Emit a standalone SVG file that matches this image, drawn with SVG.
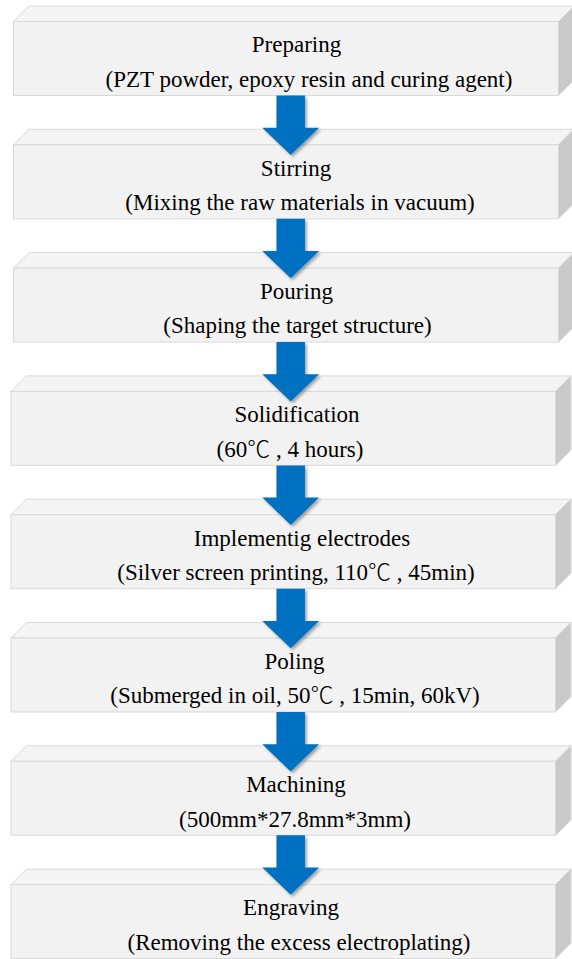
<svg xmlns="http://www.w3.org/2000/svg" xmlns:xlink="http://www.w3.org/1999/xlink" width="572" height="959" viewBox="0 0 572 959">
<style>
.front{fill:#F2F2F2;stroke:#D9D9D9;stroke-width:1}
.top{fill:#F4F4F4;stroke:#D9D9D9;stroke-width:1}
.side{fill:#C9C9C9;stroke:#D6D6D6;stroke-width:1}
.t{font-family:"Liberation Serif","Times New Roman",serif;font-size:23px;fill:#000;text-anchor:middle}
.deg{font-family:"Noto Sans CJK SC",sans-serif;font-weight:300}
.arrow{fill:#0070C0}
</style>
<defs>
<filter id="sh" x="-30%" y="-30%" width="160%" height="160%">
<feDropShadow dx="2" dy="2" stdDeviation="1.5" flood-color="#000" flood-opacity="0.35"/>
</filter>
<polygon id="arr" points="-14.25,0 14.25,0 14.25,32.2 28.4,32.2 0,59.5 -28.4,32.2 -14.25,32.2"/>
</defs>
<rect width="572" height="959" fill="#FFFFFF"/>

<g id="n1">
<polygon class="top" points="13.5,21.5 29,6 574,6 558.5,21.5"/>
<polygon class="side" points="558.5,21.5 574,6 574,80 558.5,95.5"/>
<rect class="front" x="13.5" y="21.5" width="545" height="74"/>
<text class="t" x="296.5" y="52.3">Preparing</text>
<text class="t" x="309" y="86.7">(PZT powder, epoxy resin and curing agent)</text>
</g>

<g id="n2">
<polygon class="top" points="13.5,144.8 29,129.3 574,129.3 558.5,144.8"/>
<polygon class="side" points="558.5,144.8 574,129.3 574,203.3 558.5,218.8"/>
<rect class="front" x="13.5" y="144.8" width="545" height="74"/>
<text class="t" x="296" y="175.6">Stirring</text>
<text class="t" x="300" y="210">(Mixing the raw materials in vacuum)</text>
</g>

<g id="n3">
<polygon class="top" points="13.5,268.1 29,252.6 574,252.6 558.5,268.1"/>
<polygon class="side" points="558.5,268.1 574,252.6 574,326.6 558.5,342.1"/>
<rect class="front" x="13.5" y="268.1" width="545" height="74"/>
<text class="t" x="296.5" y="298.9">Pouring</text>
<text class="t" x="297.5" y="333.3">(Shaping the target structure)</text>
</g>

<g id="n4">
<polygon class="top" points="11,391.4 26.5,375.9 571,375.9 555.5,391.4"/>
<polygon class="side" points="555.5,391.4 571,375.9 571,449.9 555.5,465.4"/>
<rect class="front" x="11" y="391.4" width="544.5" height="74"/>
<text class="t" x="297" y="422.2">Solidification</text>
<text class="t" x="290" y="456.6">(60<tspan class="deg">℃</tspan> , 4 hours)</text>
</g>

<g id="n5">
<polygon class="top" points="11,514.7 26.5,499.2 571,499.2 555.5,514.7"/>
<polygon class="side" points="555.5,514.7 571,499.2 571,573.2 555.5,588.7"/>
<rect class="front" x="11" y="514.7" width="544.5" height="74"/>
<text class="t" x="302" y="545.5">Implementig electrodes</text>
<text class="t" x="296" y="579.9">(Silver screen printing, 110<tspan class="deg">℃</tspan> , 45min)</text>
</g>

<g id="n6">
<polygon class="top" points="11,638 26.5,622.5 571,622.5 555.5,638"/>
<polygon class="side" points="555.5,638 571,622.5 571,696.5 555.5,712"/>
<rect class="front" x="11" y="638" width="544.5" height="74"/>
<text class="t" x="294.5" y="668.8">Poling</text>
<text class="t" x="295" y="703.2">(Submerged in oil, 50<tspan class="deg">℃</tspan> , 15min, 60kV)</text>
</g>

<g id="n7">
<polygon class="top" points="11,761.3 26.5,745.8 571,745.8 555.5,761.3"/>
<polygon class="side" points="555.5,761.3 571,745.8 571,819.8 555.5,835.3"/>
<rect class="front" x="11" y="761.3" width="544.5" height="74"/>
<text class="t" x="296" y="792.1">Machining</text>
<text class="t" x="295" y="826.5">(500mm*27.8mm*3mm)</text>
</g>

<g id="n8">
<polygon class="top" points="11,884.6 26.5,869.1 571,869.1 555.5,884.6"/>
<polygon class="side" points="555.5,884.6 571,869.1 571,943.1 555.5,958.6"/>
<rect class="front" x="11" y="884.6" width="544.5" height="74"/>
<text class="t" x="291" y="915.4">Engraving</text>
<text class="t" x="299" y="949.8">(Removing the excess electroplating)</text>
</g>

<g id="connectors" class="arrow" filter="url(#sh)">
<use xlink:href="#arr" href="#arr" x="290.7" y="95.5"/>
<use xlink:href="#arr" href="#arr" x="290.7" y="218.8"/>
<use xlink:href="#arr" href="#arr" x="290.7" y="342.1"/>
<use xlink:href="#arr" href="#arr" x="290.7" y="465.4"/>
<use xlink:href="#arr" href="#arr" x="290.7" y="588.7"/>
<use xlink:href="#arr" href="#arr" x="290.7" y="712"/>
<use xlink:href="#arr" href="#arr" x="290.7" y="835.3"/>
</g>
</svg>
